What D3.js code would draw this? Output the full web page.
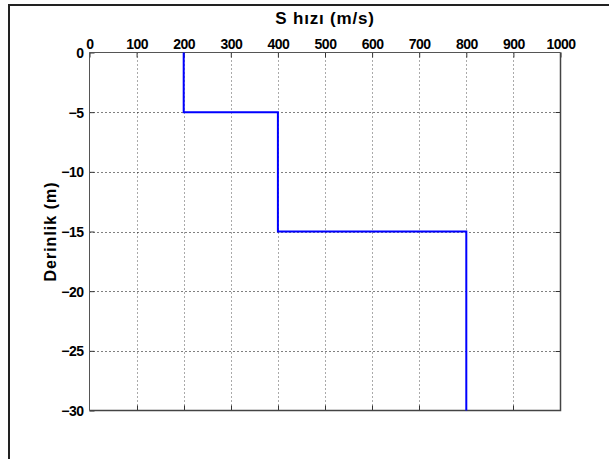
<!DOCTYPE html>
<html>
<head>
<meta charset="utf-8">
<script src="https://cdn.jsdelivr.net/npm/d3@7"></script>
<style>
  html, body { margin: 0; padding: 0; background: #fff; }
  svg { display: block; }
  text { font-family: "Liberation Sans", Arial, Helvetica, sans-serif; font-weight: bold; fill: #000; }
</style>
</head>
<body>
<svg id="chart" width="609" height="459"></svg>
<script>
// Shear-wave velocity profile (step function of depth)
const velocity = [200, 200, 400, 400, 800, 800];
const depth    = [0, -5, -5, -15, -15, -30];

const xTicks = [0, 100, 200, 300, 400, 500, 600, 700, 800, 900, 1000];
const yTicks = [0, -5, -10, -15, -20, -25, -30];

const titleText  = "S hızı (m/s)";
const yLabelText = "Derinlik (m)";

(function () {
  const svg = d3.select("#chart");
  const W = 609, H = 459;

  // Figure frame
  svg.append("path")
    .attr("d", `M9,${H} L9,5 L${W},5`)
    .attr("fill", "none")
    .attr("stroke", "#222")
    .attr("stroke-width", 2);

  const pLeft = 89.5, pRight = 560.5, pTop = 52.5, pBottom = 410.5;

  const x = d3.scaleLinear().domain([0, 1000]).range([pLeft, pRight]);
  const y = d3.scaleLinear().domain([0, -30]).range([pTop, pBottom]);

  // Dotted grid
  const grid = svg.append("g");
  grid.selectAll("line.vx").data(xTicks.slice(1, -1)).join("line")
    .attr("x1", d => Math.round(x(d)) + 0.5).attr("x2", d => Math.round(x(d)) + 0.5)
    .attr("y1", pTop).attr("y2", pBottom)
    .attr("stroke", "#555").attr("stroke-width", 1).attr("stroke-dasharray", "1,3");
  grid.selectAll("line.hy").data(yTicks.slice(1, -1)).join("line")
    .attr("y1", d => Math.round(y(d)) + 0.5).attr("y2", d => Math.round(y(d)) + 0.5)
    .attr("x1", pLeft).attr("x2", pRight)
    .attr("stroke", "#000").attr("stroke-width", 1).attr("stroke-dasharray", "1,3");

  // Axes: ticks inside the box, labels on top and left
  const xAxis = d3.axisTop(x).tickValues(xTicks).tickSize(-5).tickPadding(4).tickFormat(d3.format("d"));
  const yAxis = d3.axisLeft(y).tickValues(yTicks).tickSize(-5).tickPadding(6).tickFormat(d3.format("d"));

  const gx = svg.append("g").attr("transform", `translate(0,${pTop})`).call(xAxis);
  const gy = svg.append("g").attr("transform", `translate(${pLeft},0)`).call(yAxis);
  [gx, gy].forEach(g => {
    g.select(".domain").remove();
    g.selectAll(".tick line").attr("stroke", "#333");
    g.selectAll(".tick text")
      .style("font-family", "'Liberation Sans', Arial, sans-serif")
      .style("font-weight", "bold")
      .style("font-size", "14px")
      .style("letter-spacing", "-0.5px")
      .attr("fill", "#000");
  });
  gy.selectAll(".tick text").attr("dy", "0.35em");

  // Mirror ticks on bottom and right edges
  svg.append("g").selectAll("line").data(xTicks.slice(1, -1)).join("line")
    .attr("x1", d => Math.round(x(d)) + 0.5).attr("x2", d => Math.round(x(d)) + 0.5)
    .attr("y1", pBottom).attr("y2", pBottom - 5).attr("stroke", "#333");
  svg.append("g").selectAll("line").data(yTicks.slice(1, -1)).join("line")
    .attr("y1", d => Math.round(y(d)) + 0.5).attr("y2", d => Math.round(y(d)) + 0.5)
    .attr("x1", pRight).attr("x2", pRight - 5).attr("stroke", "#333");

  // Axes box
  svg.append("path")
    .attr("d", `M${pLeft},${pBottom} L${pLeft},${pTop} L${pRight},${pTop}`)
    .attr("fill", "none").attr("stroke", "#555").attr("stroke-width", 1);
  svg.append("path")
    .attr("d", `M${pLeft},${pBottom} L${pRight},${pBottom} L${pRight},${pTop}`)
    .attr("fill", "none").attr("stroke", "#444").attr("stroke-width", 1.5);

  // Velocity profile
  const line = d3.line().x((d, i) => x(velocity[i])).y(d => y(d));
  svg.append("path")
    .datum(depth)
    .attr("d", line)
    .attr("fill", "none")
    .attr("stroke", "#0000ff")
    .attr("stroke-width", 2);

  // Title and axis label
  svg.append("text")
    .attr("x", (pLeft + pRight) / 2).attr("y", 24)
    .attr("text-anchor", "middle")
    .style("font-size", "17px").style("letter-spacing", "0.8px")
    .text(titleText);

  svg.append("text")
    .attr("transform", `translate(56,${(pTop + pBottom) / 2}) rotate(-90)`)
    .attr("text-anchor", "middle")
    .style("font-size", "16px").style("letter-spacing", "1px")
    .text(yLabelText);
})();
</script>
</body>
</html>
